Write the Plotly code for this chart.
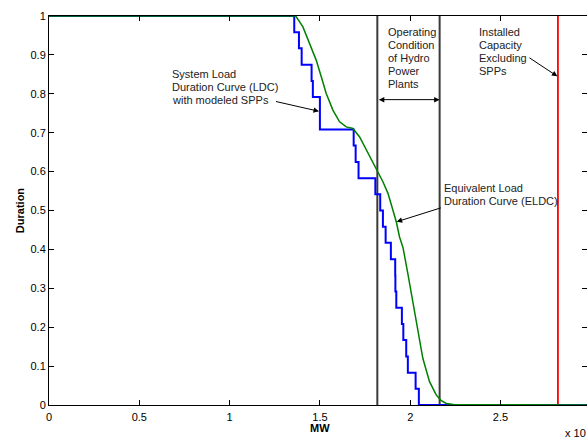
import plotly.graph_objects as go

# ---- data (MW in units of 10^4) ----
ldc_mw = [0, 1.358, 1.384, 1.399, 1.454, 1.461, 1.500, 1.687, 1.698, 1.714, 1.807,
          1.834, 1.849, 1.864, 1.893, 1.917, 1.918, 1.923, 1.954, 1.962, 1.978,
          1.987, 2.030, 2.048, 3.0]
ldc_dur = [1, 0.958, 0.917, 0.875, 0.833, 0.792, 0.708, 0.667, 0.625, 0.583, 0.542,
           0.5, 0.458, 0.417, 0.375, 0.333, 0.292, 0.25, 0.208, 0.167, 0.125,
           0.083, 0.042, 0, 0]

eldc_mw = [0, 1.366, 1.406, 1.443, 1.480, 1.508, 1.535, 1.572, 1.609, 1.646, 1.683,
           1.720, 1.748, 1.785, 1.821, 1.849, 1.877, 1.904, 1.923, 1.941, 1.960,
           1.987, 2.015, 2.043, 2.070, 2.107, 2.144, 2.170, 2.200, 2.240, 3.0]
eldc_dur = [1, 1, 0.972, 0.929, 0.886, 0.843, 0.801, 0.758, 0.728, 0.715, 0.711,
            0.689, 0.664, 0.629, 0.599, 0.574, 0.544, 0.501, 0.471, 0.432, 0.405,
            0.338, 0.265, 0.190, 0.120, 0.060, 0.026, 0.012, 0.004, 0.001, 0]

hydro_bounds_mw = [1.818, 2.163]
installed_capacity_mw = 2.818

x_ticks = [0, 0.5, 1, 1.5, 2, 2.5]
y_ticks = [0, 0.1, 0.2, 0.3, 0.4, 0.5, 0.6, 0.7, 0.8, 0.9, 1]

ldc_label = ["System Load", "Duration Curve (LDC)", "with modeled SPPs"]
hydro_label = ["Operating", "Condition", "of Hydro", "Power", "Plants"]
cap_label = ["Installed", "Capacity", "Excluding", "SPPs"]
eldc_label = ["Equivalent Load", "Duration Curve (ELDC)"]

FONT = "Arial, Liberation Sans, Helvetica, sans-serif"

fig = go.Figure()

for xb in hydro_bounds_mw:
    fig.add_trace(go.Scatter(x=[xb, xb], y=[0, 1], mode="lines",
                             line=dict(color="#3a3a3a", width=2), hoverinfo="skip"))
fig.add_trace(go.Scatter(x=[installed_capacity_mw] * 2, y=[0, 1], mode="lines",
                         line=dict(color="#ff0000", width=1.8), hoverinfo="skip"))
fig.add_trace(go.Scatter(x=ldc_mw, y=ldc_dur, mode="lines", line_shape="hv",
                         line=dict(color="#0000ff", width=2)))
fig.add_trace(go.Scatter(x=eldc_mw, y=eldc_dur, mode="lines",
                         line=dict(color="#008000", width=1.5)))

ann = []
LH = 13 / 389.3  # line spacing in data units


def block(lines, x0, y0):
    for i, t in enumerate(lines):
        ann.append(dict(x=x0, y=y0 - i * LH, xref="x", yref="y", text=t,
                        showarrow=False, xanchor="left", yanchor="middle",
                        font=dict(size=11, color="#222", family=FONT)))


block(ldc_label, 0.668, 0.850)
block(hydro_label, 1.868, 0.958)
block(cap_label, 2.370, 0.958)
block(eldc_label, 2.178, 0.558)

arrow_style = dict(showarrow=True, arrowhead=2, arrowsize=1.1, arrowwidth=1,
                   arrowcolor="#000", text="", xref="x", yref="y",
                   axref="x", ayref="y")
ann.append(dict(x=1.495, y=0.755, ax=1.249, ay=0.781, **arrow_style))
ann.append(dict(x=2.815, y=0.845, ax=2.652, ay=0.895, **arrow_style))
ann.append(dict(x=1.925, y=0.471, ax=2.178, ay=0.508, **arrow_style))
ann.append(dict(x=hydro_bounds_mw[1], y=0.785, ax=hydro_bounds_mw[0], ay=0.785,
                arrowside="end+start", **arrow_style))

ann.append(dict(x=-0.0546, y=0.5, xref="paper", yref="paper", text="<b>Duration</b>",
                textangle=-90, showarrow=False, xanchor="center", yanchor="middle",
                font=dict(size=11, color="#000", family=FONT)))
ann.append(dict(x=0.503, y=-0.060, xref="paper", yref="paper", text="<b>MW</b>",
                showarrow=False, xanchor="center", yanchor="middle",
                font=dict(size=11, color="#000", family=FONT)))
ann.append(dict(x=0.955, y=-0.072, xref="paper", yref="paper", text="x 10",
                showarrow=False, xanchor="left", yanchor="middle",
                font=dict(size=11, color="#000", family=FONT)))

axis_common = dict(showgrid=False, zeroline=False, showline=True, linecolor="#000",
                   linewidth=1, mirror="ticks", ticks="inside", ticklen=5,
                   tickcolor="#000", tickwidth=1,
                   tickfont=dict(size=11, color="#000", family=FONT))

fig.update_layout(
    width=587, height=440, autosize=False,
    margin=dict(l=49, r=0, t=16, b=35),
    paper_bgcolor="white", plot_bgcolor="white",
    showlegend=False,
    xaxis=dict(range=[0, 2.979], tickvals=x_ticks, ticklabelstandoff=2,
               ticktext=[f"{v:g}" for v in x_ticks], **axis_common),
    yaxis=dict(range=[0, 1], tickvals=y_ticks,
               ticktext=[f"{v:g}" for v in y_ticks], **axis_common),
    annotations=ann,
)

fig.write_html("out.html")
